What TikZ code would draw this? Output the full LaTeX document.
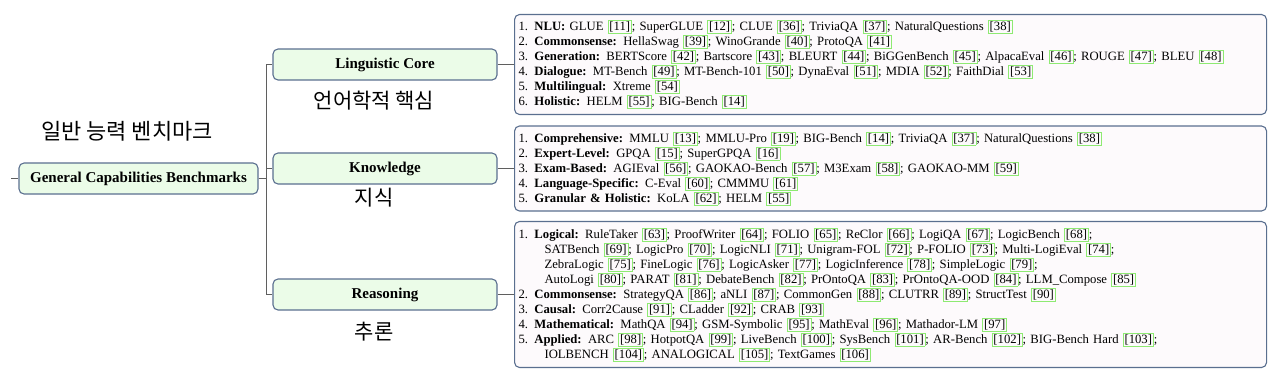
\documentclass[tikz,border=0pt]{standalone}
\usepackage{fontspec}
\setmainfont{Liberation Serif}
\newfontfamily\kofont{Noto Sans CJK KR}
\definecolor{nodefill}{HTML}{EBFCE8}
\definecolor{nodeline}{HTML}{5A6F8F}
\definecolor{boxfill}{HTML}{FDFAFC}
\definecolor{linkgray}{HTML}{5F5F5F}
\definecolor{citegreen}{HTML}{8EEA72}
\newcommand{\cit}[1]{{\setlength{\fboxsep}{1pt}\setlength{\fboxrule}{0.7pt}\color{citegreen}\fbox{\color{black}[#1]}}}
\newcommand{\cont}{\\\hspace*{26pt}}
\tikzset{
  catnode/.style={draw=nodeline,fill=nodefill,line width=1.1pt,rounded corners=5pt,
    minimum height=31pt,inner sep=0pt,font=\fontsize{15}{17}\selectfont\bfseries},
  listbox/.style={draw=nodeline,fill=boxfill,line width=1.1pt,rounded corners=5pt,
    anchor=west,text width=744pt,inner xsep=4pt,align=left,font=\fontsize{12.7}{15}\selectfont},
  link/.style={draw=linkgray,line width=1.1pt},
  kolabel/.style={font=\kofont\fontsize{21}{21}\selectfont}
}

\begin{document}
\begin{tikzpicture}[x=1pt,y=-1pt]
  \useasboundingbox (0,0) rectangle (1276,376);
  \node[catnode,minimum width=239pt] (gcb) at (138.5,178.5) {General Capabilities Benchmarks};
  \node[catnode,minimum width=224pt] (ling) at (385,64.5) {Linguistic Core};
  \node[catnode,minimum width=224pt] (know) at (385,168.5) {Knowledge};
  \node[catnode,minimum width=224pt] (reas) at (385,294.5) {Reasoning};
  \coordinate (stub) at (11,178.5);
  \draw[link] (stub) -- (gcb.west);
  \foreach \n in {ling,know,reas}
    \draw[link] (gcb.east) -- ++(8,0) |- (\n.west);

  \node[listbox,minimum height=100pt] (lingbox) at (514,64.5) {%
    1. \textbf{NLU:} GLUE \cit{11}; SuperGLUE \cit{12}; CLUE \cit{36}; TriviaQA \cit{37}; NaturalQuestions \cit{38}\\
    2. \textbf{Commonsense:} HellaSwag \cit{39}; WinoGrande \cit{40}; ProtoQA \cit{41}\\
    3. \textbf{Generation:} BERTScore \cit{42}; Bartscore \cit{43}; BLEURT \cit{44}; BiGGenBench \cit{45}; AlpacaEval \cit{46}; ROUGE \cit{47}; BLEU \cit{48}\\
    4. \textbf{Dialogue:} MT-Bench \cit{49}; MT-Bench-101 \cit{50}; DynaEval \cit{51}; MDIA \cit{52}; FaithDial \cit{53}\\
    5. \textbf{Multilingual:} Xtreme \cit{54}\\
    6. \textbf{Holistic:} HELM \cit{55}; BIG-Bench \cit{14}};
  \node[listbox,minimum height=85pt] (knowbox) at (514,168.5) {%
    1. \textbf{Comprehensive:} MMLU \cit{13}; MMLU-Pro \cit{19}; BIG-Bench \cit{14}; TriviaQA \cit{37}; NaturalQuestions \cit{38}\\
    2. \textbf{Expert-Level:} GPQA \cit{15}; SuperGPQA \cit{16}\\
    3. \textbf{Exam-Based:} AGIEval \cit{56}; GAOKAO-Bench \cit{57}; M3Exam \cit{58}; GAOKAO-MM \cit{59}\\
    4. \textbf{Language-Specific:} C-Eval \cit{60}; CMMMU \cit{61}\\
    5. \textbf{Granular \& Holistic:} KoLA \cit{62}; HELM \cit{55}};
  \node[listbox,minimum height=146pt] (reasbox) at (514,294.5) {%
    1. \textbf{Logical:} RuleTaker \cit{63}; ProofWriter \cit{64}; FOLIO \cit{65}; ReClor \cit{66}; LogiQA \cit{67}; LogicBench \cit{68};
    \cont SATBench \cit{69}; LogicPro \cit{70}; LogicNLI \cit{71}; Unigram-FOL \cit{72}; P-FOLIO \cit{73}; Multi-LogiEval \cit{74};
    \cont ZebraLogic \cit{75}; FineLogic \cit{76}; LogicAsker \cit{77}; LogicInference \cit{78}; SimpleLogic \cit{79};
    \cont AutoLogi \cit{80}; PARAT \cit{81}; DebateBench \cit{82}; PrOntoQA \cit{83}; PrOntoQA-OOD \cit{84}; LLM\_Compose \cit{85}\\
    2. \textbf{Commonsense:} StrategyQA \cit{86}; aNLI \cit{87}; CommonGen \cit{88}; CLUTRR \cit{89}; StructTest \cit{90}\\
    3. \textbf{Causal:} Corr2Cause \cit{91}; CLadder \cit{92}; CRAB \cit{93}\\
    4. \textbf{Mathematical:} MathQA \cit{94}; GSM-Symbolic \cit{95}; MathEval \cit{96}; Mathador-LM \cit{97}\\
    5. \textbf{Applied:} ARC \cit{98}; HotpotQA \cit{99}; LiveBench \cit{100}; SysBench \cit{101}; AR-Bench \cit{102}; BIG-Bench Hard \cit{103};
    \cont IOLBENCH \cit{104}; ANALOGICAL \cit{105}; TextGames \cit{106}};
  \draw[link] (ling.east) -- (lingbox.west);
  \draw[link] (know.east) -- (knowbox.west);
  \draw[link] (reas.east) -- (reasbox.west);

  \node[kolabel,font=\kofont\fontsize{22}{22}\selectfont] (gcbko) at (127,131) {일반 능력 벤치마크};
  \node[kolabel] (lingko) at (374,101) {언어학적 핵심};
  \node[kolabel] (knowko) at (374,198) {지식};
  \node[kolabel] (reasko) at (374,332) {추론};
\end{tikzpicture}
\end{document}
